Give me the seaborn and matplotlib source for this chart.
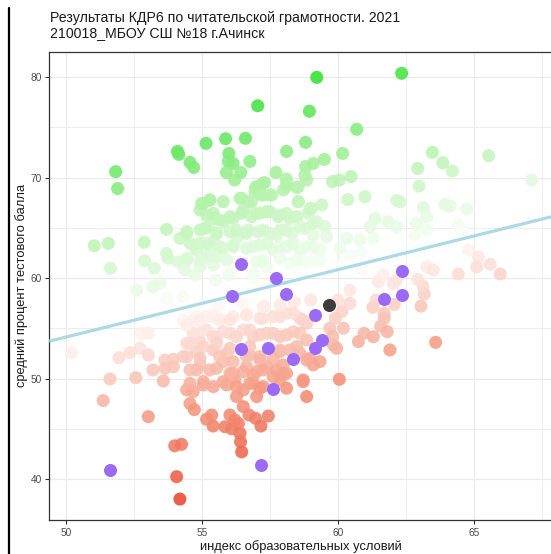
import numpy as np
import pandas as pd
import matplotlib
matplotlib.use("Agg")
import matplotlib.pyplot as plt
import seaborn as sns
from matplotlib.colors import LinearSegmentedColormap, Normalize
from matplotlib.lines import Line2D
from matplotlib.ticker import MultipleLocator, FixedLocator

# ---------------- text ----------------
title_text = "Результаты КДР6 по читательской грамотности. 2021\n210018_МБОУ СШ №18 г.Ачинск"
x_label = "индекс образовательных условий"
y_label = "средний процент тестового балла"
x_ticks = [50, 55, 60, 65]
y_ticks = [40, 50, 60, 70, 80]

# ---------------- data: all classes of the region ----------------
class_x = [
    57.05, 51.83, 51.90, 54.10, 54.15, 54.56, 54.70, 55.15, 55.87, 56.60,
    55.99, 55.97, 56.15, 56.76, 55.90, 56.43, 56.20, 58.11, 57.72, 58.10,
    58.10, 58.48, 57.30, 56.97, 53.70, 54.19, 52.88, 51.04, 51.56, 51.64,
    52.90, 53.25, 53.70, 53.76, 54.13,
    59.22, 62.34, 58.95, 60.69, 58.81, 60.17, 59.50, 59.09, 58.81, 58.79,
    58.85, 59.80, 60.05, 60.48, 60.36, 60.99, 63.47, 63.85, 64.20, 62.93,
    62.98, 65.54, 67.12, 62.28, 62.16, 63.14, 63.26, 63.93, 64.12, 64.73,
    61.36, 61.18, 61.85, 62.16, 62.89, 62.83, 63.26, 64.42, 64.55, 60.32,
    60.80, 61.30, 60.07, 60.44, 60.87, 64.80, 65.16, 65.59, 65.10, 65.96,
    64.42, 63.26, 63.50,
    55.05, 55.29, 55.78, 56.40, 56.70, 56.95, 57.25, 57.56, 57.99, 58.54,
    59.03, 59.40, 54.93, 55.17, 55.48, 55.78, 56.15, 56.46, 56.82, 57.13,
    57.50, 57.87, 58.23, 58.48, 58.91, 59.21, 59.52, 54.44, 55.11, 55.54,
    56.03, 56.33, 56.70, 57.07, 57.50, 57.87, 58.30, 58.79, 59.09, 59.58,
    54.56, 54.93, 55.42, 54.80, 55.29, 55.78, 56.15, 56.64, 57.13, 57.62,
    58.11, 58.60, 59.09, 54.44, 55.05, 55.66, 54.37, 54.93, 55.42, 57.01,
    57.38, 58.23, 58.85, 59.34, 54.74, 56.89, 58.48,
    55.17, 55.66, 56.15, 56.64, 57.13, 57.62, 58.11, 58.60, 58.85, 54.68,
    54.68, 55.17, 55.54, 56.03, 56.52, 56.89, 57.38, 57.87, 58.36, 58.85,
    54.44, 54.93, 54.80, 55.42, 55.91, 56.76, 57.13, 57.87, 58.23, 58.60,
    54.31, 58.97, 59.34, 54.56, 54.93, 55.29, 55.78, 56.15, 56.64, 57.01,
    57.38, 57.74, 58.11, 59.09, 54.44, 54.68, 55.05, 55.42, 55.91, 56.21,
    56.52, 56.89, 57.25, 57.87, 58.11, 58.72, 56.27, 57.01, 58.85,
    54.19, 54.07, 54.00, 54.25, 56.46, 56.42, 56.40, 56.34, 56.09, 55.85,
    55.41, 55.17, 55.36, 56.03, 56.21, 56.73, 56.97, 57.17, 57.44, 53.03,
    51.37, 51.62, 52.57, 53.58, 50.20, 51.95, 52.35, 52.72, 53.03, 52.78,
    53.03, 53.20, 53.64, 53.95, 53.95, 53.64, 54.56, 54.72, 56.52, 52.60,
    53.20, 53.46, 53.70, 54.30,
    63.59, 61.91, 60.05, 59.95, 59.83, 59.70, 60.20, 60.14, 60.44, 60.44,
    60.75, 60.96, 61.30, 61.57, 61.81, 61.70, 61.70, 61.28, 62.07, 61.40,
    63.05, 63.17, 63.12, 62.93, 62.16, 62.04, 61.48, 61.67,
    54.90, 55.60, 56.50, 57.30, 58.40, 59.00, 59.90, 60.00, 59.80, 60.10,
    60.90, 54.31, 54.80,
    # denser green cluster
    54.99, 55.29, 56.46, 56.82, 57.01, 57.25, 57.19, 57.50, 58.11, 58.54,
    58.54, 58.97, 55.42, 55.66, 56.03, 56.52, 56.95, 57.38, 57.80, 58.11,
    58.48, 54.44, 54.93, 55.23, 55.54, 56.27, 56.64, 57.25, 57.74, 58.11,
    58.60, 59.09, 54.68, 55.17, 55.66, 56.15, 56.89, 57.38, 57.87, 58.36,
    58.85, 59.34, 54.44, 54.93, 55.42, 55.91, 57.25, 57.87, 58.48, 59.09,
    55.50, 56.00, 56.90,
    # denser red cluster
    54.68, 55.05, 55.42, 55.78, 56.27, 56.76, 57.13, 57.62, 58.11, 58.60,
    54.56, 55.05, 55.54, 56.03, 56.76, 57.87, 58.48, 54.44, 54.93, 55.66,
    56.15, 56.64, 57.13, 57.62, 57.99, 58.85, 54.80, 55.54, 56.03, 56.52,
    56.89, 57.25, 57.62, 57.99, 58.72, 54.56, 55.05, 55.78, 56.27, 56.76,
    57.13, 54.93, 55.42, 56.03, 56.64, 57.25, 57.87, 58.36, 58.72, 54.44,
    57.25, 57.87,
]
class_y = [
    77.14, 70.58, 68.90, 72.60, 72.30, 71.50, 71.00, 73.40, 73.86, 73.90,
    72.40, 71.60, 71.40, 71.60, 70.50, 70.50, 69.75, 72.60, 70.50, 69.85,
    69.10, 69.00, 69.50, 69.00, 64.85, 63.95, 63.55, 63.20, 63.45, 60.96,
    61.70, 60.96, 62.45, 61.96, 61.60,
    79.97, 80.37, 76.60, 74.80, 73.50, 72.40, 71.80, 71.40, 71.10, 70.25,
    69.75, 69.60, 69.75, 70.10, 67.80, 68.10, 72.50, 71.47, 70.65, 70.90,
    69.15, 72.17, 69.75, 67.60, 67.73, 67.00, 66.10, 67.33, 67.16, 66.87,
    65.94, 65.10, 65.60, 65.10, 65.44, 64.28, 64.80, 65.30, 64.80, 63.95,
    63.80, 63.95, 62.95, 62.30, 62.60, 62.80, 62.10, 61.36, 61.10, 60.40,
    60.40, 61.10, 60.80,
    67.43, 67.76, 67.60, 67.93, 67.60, 68.60, 68.26, 68.26, 68.76, 67.60,
    66.94, 67.27, 66.77, 66.27, 65.94, 65.61, 65.94, 66.44, 66.11, 66.44,
    66.60, 66.27, 65.94, 66.11, 66.44, 65.61, 65.11, 64.61, 64.95, 64.45,
    64.61, 64.12, 64.78, 64.61, 64.45, 64.78, 64.45, 64.95, 64.28, 64.12,
    63.45, 63.45, 63.62, 62.79, 62.62, 62.96, 63.12, 62.96, 63.29, 62.79,
    63.12, 62.79, 63.12, 61.80, 61.96, 62.13, 60.80, 61.13, 61.30, 61.63,
    61.13, 61.46, 61.63, 61.80, 60.30, 60.47, 60.47,
    56.16, 55.82, 56.16, 56.32, 55.99, 56.16, 56.49, 55.99, 55.49, 55.82,
    54.50, 54.83, 54.17, 54.50, 54.83, 54.17, 54.50, 54.17, 54.66, 53.84,
    53.50, 53.67, 52.67, 52.84, 52.51, 52.34, 52.18, 52.67, 52.84, 52.51,
    52.18, 52.01, 51.68, 50.85, 51.35, 50.85, 51.68, 50.52, 51.18, 50.68,
    51.18, 50.85, 50.52, 51.35, 48.86, 48.70, 49.69, 49.19, 49.36, 49.86,
    48.86, 49.52, 49.19, 49.86, 49.03, 49.86, 48.20, 48.20, 48.20,
    38.00, 40.23, 43.30, 43.45, 42.70, 43.70, 44.55, 45.50, 45.00, 45.20,
    45.27, 45.94, 46.37, 46.37, 45.87, 46.37, 46.04, 45.27, 46.27, 46.20,
    47.80, 49.95, 50.08, 49.75, 52.57, 52.07, 52.57, 53.00, 52.34, 54.50,
    54.50, 50.85, 51.84, 51.91, 51.17, 51.00, 47.50, 46.90, 47.20, 58.80,
    59.13, 59.47, 57.98, 58.14,
    53.60, 52.84, 49.92, 53.00, 53.33, 55.00, 55.00, 56.65, 57.48, 58.80,
    53.67, 54.50, 54.16, 55.20, 54.66, 56.48, 55.99, 57.08, 57.38, 57.80,
    57.20, 58.40, 59.20, 59.87, 59.80, 59.47, 59.63, 60.30,
    57.30, 57.00, 57.50, 57.20, 57.60, 57.80, 56.00, 57.80, 54.20, 61.20,
    60.90, 55.80, 56.15,
    # denser green cluster
    67.43, 67.76, 67.93, 67.60, 69.10, 69.42, 68.26, 68.26, 69.42, 69.09,
    67.60, 66.93, 66.43, 65.77, 66.10, 66.76, 66.43, 66.60, 66.10, 66.43,
    66.10, 64.44, 64.78, 65.11, 64.44, 64.78, 64.44, 64.78, 64.28, 64.78,
    65.11, 65.44, 63.28, 63.45, 63.12, 63.28, 63.12, 63.45, 63.12, 63.45,
    63.12, 62.78, 61.96, 61.79, 62.12, 61.79, 61.79, 61.96, 61.79, 61.79,
    59.80, 60.30, 60.00,
    # denser red cluster
    54.49, 54.82, 54.16, 54.66, 54.16, 54.82, 54.33, 54.49, 54.33, 54.49,
    53.50, 53.17, 53.50, 53.00, 53.17, 52.84, 53.17, 52.17, 52.00, 52.17,
    51.67, 52.17, 51.84, 52.00, 51.34, 51.84, 50.85, 51.01, 50.51, 50.68,
    50.35, 50.85, 50.18, 50.51, 49.68, 49.52, 49.35, 49.68, 49.19, 49.52,
    49.02, 55.82, 56.15, 55.82, 56.32, 55.99, 56.15, 56.48, 55.82, 55.32,
    57.15, 57.31,
]

# classes of the selected school
purple_x = [56.42, 57.72, 62.34, 56.09, 58.10, 62.34, 61.70, 59.15,
            56.42, 57.44, 59.42, 59.15, 58.33, 57.62, 57.17, 51.62]
purple_y = [61.40, 60.00, 60.70, 58.20, 58.45, 58.30, 57.90, 56.30,
            52.90, 53.00, 53.83, 53.00, 51.90, 49.00, 41.40, 40.90]

# the school as a whole
school_x = [59.67]
school_y = [57.30]

# regression line  y = intercept + slope * x
fit_intercept = 20.57
fit_slope = 0.671

# ---------------- frame ----------------
df = pd.DataFrame({"x": class_x, "y": class_y})
df["resid"] = df["y"] - (fit_intercept + fit_slope * df["x"])
df_p = pd.DataFrame({"x": purple_x, "y": purple_y})
df_s = pd.DataFrame({"x": school_x, "y": school_y})

sns.set_style("white")
plt.rcParams["font.family"] = ["Liberation Sans", "DejaVu Sans"]

cmap = LinearSegmentedColormap.from_list(
    "rwg",
    [(0.0, "#e8402a"), (0.25, "#f59a82"), (0.5, "#ffffff"),
     (0.75, "#b4f2aa"), (1.0, "#2fe02f")])
norm = Normalize(-20, 20)

W, H = 551, 554
fig = plt.figure(figsize=(W / 100, H / 100), dpi=100)
left_px, right_px, top_px, bot_px = 49.3, 560, 51.7, 520
ax = fig.add_axes([left_px / W, 1 - bot_px / H,
                   (right_px - left_px) / W, (bot_px - top_px) / H])

xlim = (49.39, 68.16)
ylim = (35.92, 82.52)

sns.scatterplot(data=df, x="x", y="y", hue="resid", palette=cmap,
                hue_norm=norm, s=88, linewidth=0, alpha=0.88,
                legend=False, ax=ax, zorder=3)

xs = np.array(xlim)
ax.plot(xs, fit_intercept + fit_slope * xs, color="#add8e6", lw=2.3,
        zorder=4, solid_capstyle="butt")

sns.scatterplot(data=df_p, x="x", y="y", color="#9b6bf7", s=88,
                linewidth=0, legend=False, ax=ax, zorder=5)
sns.scatterplot(data=df_s, x="x", y="y", color="#3d3d3d", s=88,
                linewidth=0, legend=False, ax=ax, zorder=6)

ax.set_xlim(*xlim)
ax.set_ylim(*ylim)
ax.xaxis.set_major_locator(FixedLocator(x_ticks))
ax.yaxis.set_major_locator(FixedLocator(y_ticks))
ax.xaxis.set_minor_locator(MultipleLocator(2.5))
ax.yaxis.set_minor_locator(MultipleLocator(5))
ax.grid(True, which="major", color="#ebebeb", lw=0.9, zorder=0)
ax.grid(True, which="minor", color="#ebebeb", lw=0.6, zorder=0)
ax.set_axisbelow(True)
for sp in ax.spines.values():
    sp.set_color("#333333")
    sp.set_linewidth(0.9)
ax.tick_params(which="major", direction="out", length=3, width=0.8,
               color="#333333", labelcolor="#4d4d4d", labelsize=7.3,
               left=True, bottom=True, pad=2.5)
ax.tick_params(which="minor", length=0)
ax.set_xlabel("")
ax.set_ylabel("")

fig.text(50 / W, 1 - 11 / H, title_text, ha="left", va="top",
         fontsize=10.2, color="#1a1a1a", linespacing=1.05)
fig.text(301 / W, 1 - 547 / H, x_label, ha="center", va="center",
         fontsize=9.3, color="#1a1a1a")
fig.text(22 / W, 1 - 285 / H, y_label, ha="center", va="center",
         rotation=90, fontsize=9.3, color="#1a1a1a")

fig.add_artist(Line2D([9 / W, 9 / W], [0, 1 - 8 / H], color="black",
                      lw=1.6, transform=fig.transFigure))

fig.savefig("out.png", dpi=100)
